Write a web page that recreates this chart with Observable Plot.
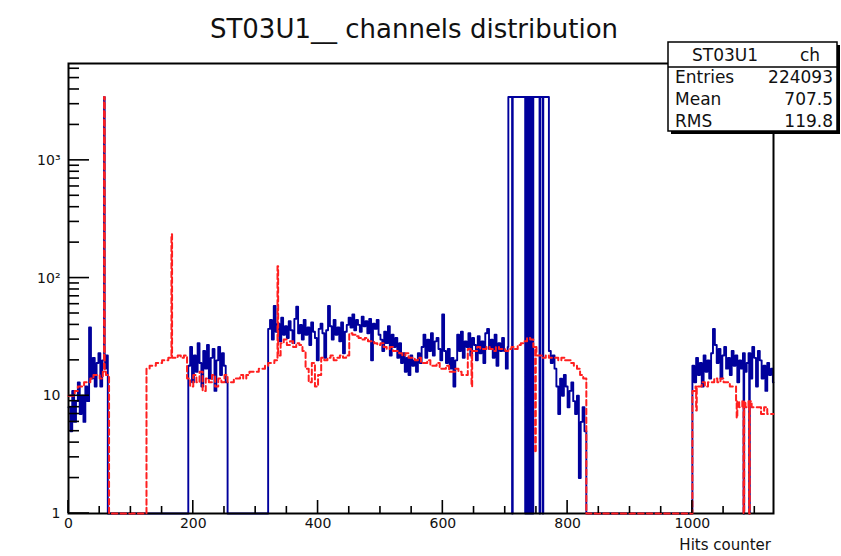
<!DOCTYPE html>
<html>
<head>
<meta charset="utf-8">
<script src="https://cdn.jsdelivr.net/npm/d3@7"></script>
<script src="https://cdn.jsdelivr.net/npm/@observablehq/plot@0.6"></script>
<style>
  html, body { margin: 0; padding: 0; background: #fff; }
  #chart svg { display: block; }
</style>
</head>
<body>
<div id="chart"></div>
<script>
// ---------- chart texts ----------
const title = "ST03U1__ channels distribution";
const xAxisTitle = "Hits counter";
const statsHeader = ["ST03U1", "ch"];
const statsNames = ["Entries", "Mean", "RMS"];
const statsValues = ["224093", "707.5", "119.8"];

// ---------- axes ----------
const nChannels = 1130;
const xMajor = [0, 200, 400, 600, 800, 1000];
const xLabels = ["0", "200", "400", "600", "800", "1000"];
const xMinor = [50, 100, 150, 250, 300, 350, 450, 500, 550, 650, 700, 750, 850, 900, 950, 1050, 1100];
const yMajor = [1, 10, 100, 1000];
const yLabels = ["1", "10", "10\u00B2", "10\u00B3"];
const yMinor = [2, 3, 4, 5, 6, 7, 8, 9, 20, 30, 40, 50, 60, 70, 80, 90,
  200, 300, 400, 500, 600, 700, 800, 900, 2000, 3000, 4000, 5000, 6000];
const yMax = 6650;

// ---------- blue histogram (solid), 3-channel bins: segment start channels + counts ----------
const blueBin = 3;
const blueSegA = [8, 5, 11, 6, 9, 13, 7, 10, 6, 12, 9, 38, 14, 21, 12, 19, 23, 12, 20, 17, 22];   // from 0
const blueSegB = [18, 26, 13, 22, 16, 28, 19, 12, 24, 17, 27, 14, 21, 25, 11, 20, 26, 15, 23, 18, 13]; // from 192
const blueSegC = [                                                                                  // from 320
  37, 44, 30, 58, 35, 41, 29, 46, 33, 39, 31, 43, 36, 28, 45, 57, 34,
  40, 30, 44, 33, 38, 27, 42, 35, 31, 20, 37,
  41, 34, 21, 36, 58, 39, 30, 44, 33, 38, 29, 42, 23, 35, 40,
  46, 38, 49, 36, 44, 40, 35, 47, 39, 43, 34, 45, 20, 41, 37, 44, 33,
  30, 24, 35, 28, 39, 22, 33, 26, 31, 21, 28,
  19, 23, 16, 21, 15, 22, 18, 20, 16, 23, 19,
  26, 33, 21, 30, 24, 34, 22, 29, 31, 25, 20, 49,
  24, 19, 25, 17, 21, 12, 20,
  33, 24, 35, 21, 29, 26, 34, 22, 31, 27, 20,
  32, 23, 29, 19, 34, 37, 25, 30, 21, 33, 18, 28, 24, 31,
  24, 17, 26];
const blueBlock = [3450, 3450, 3450, 3450, 3450, 3450, 3450, 3450, 3450, 3450, 3450,               // from 705
  3450, 3450, 3450, 3450, 3450, 3450, 3450, 3450, 3450, 3450, 3450];
const blueSegE = [24, 19, 22, 17, 12, 7, 14, 10, 15, 12, 8, 11, 13, 9, 7, 10, 2, 6, 8, 5];          // from 770
const blueSegF = [18, 13, 21, 15, 19, 12, 22, 16, 20, 14, 23, 37,                                    // from 1000
  27, 19, 25, 14, 22, 26, 17,
  21, 15, 24, 18, 22, 13, 20, 17, 23, 16,
  19, 23, 14, 26, 21, 12, 24,
  20, 14, 18, 11, 19, 15, 17, 13];
const blueStarts = [0, 192, 320, 705, 770, 1000];
// single channels [channel, count]
const blueSingles = [[57, 3450], [711, 0], [732, 0], [734, 0], [736, 0], [738, 0], [740, 0],
  [742, 0], [744, 0], [755, 0], [760, 0], [1082, 0], [1091, 0]];

// ---------- red histogram (dashed), 5-channel bins ----------
const redBin = 5;
const redSegA = [10, 10, 11, 12, 12, 13, 13, 14, 15, 15, 14, 16, 15];             // from 0
const redSegB = [17, 18, 18, 19, 19, 20, 20, 21, 21, 21, 22, 21, 22,               // from 125
  14, 12, 15, 13, 16, 11, 14, 13, 15, 12, 14, 13, 15,
  13, 13, 14, 14, 15, 14, 15, 16, 16, 16, 17, 17, 18,
  19, 19, 20,
  22, 28, 30, 27, 29, 26, 28, 27, 24, 17, 13, 19, 12, 15, 21, 20, 21, 22, 20, 21, 22, 21, 22,
  34, 33, 32, 31, 30, 31, 29, 29, 28, 27, 28, 26, 25, 26, 24, 24, 23, 22, 23, 21, 21, 20,
  21, 19, 19, 20, 18, 18, 19, 17, 17, 18, 16, 16, 17, 16, 15, 15,
  25, 24, 24, 26, 25, 25, 26, 25, 24, 26, 25, 25, 24, 25, 26, 25, 27, 28, 29, 31, 30, 26,
  22, 22, 21, 22, 21, 21, 21, 20, 21, 20, 20, 19, 18, 17, 15, 14];
const redSegF = [11, 12, 12, 13, 12, 13, 13, 14, 13, 14, 13, 13, 12, 12, 9, 8,     // from 1000
  9, 8, 9, 8, 8, 8, 7, 8, 7, 7];
const redStarts = [0, 125, 1000];
const redSingles = [[57, 3450], [165, 236], [335, 126], [646, 12], [748, 3.3],
  [1006, 7.5], [1071, 6.5], [1082, 0], [1091, 0]];

// ---------- build step tables ----------
function buildSteps(segments, starts, width, singles) {
  const counts = new Array(nChannels).fill(0);
  segments.forEach((seg, k) => {
    seg.forEach((v, i) => {
      const c0 = starts[k] + i * width;
      for (let c = c0; c < c0 + width && c < nChannels; c++) counts[c] = v;
    });
  });
  for (const [c, v] of singles) counts[c] = v;
  const pts = [];
  for (let c = 0; c < nChannels; c++) {
    if (c === 0 || counts[c] !== counts[c - 1]) pts.push({x: c, n: counts[c]});
  }
  pts.push({x: nChannels, n: counts[nChannels - 1]});
  return pts;
}
const blueSteps = buildSteps([blueSegA, blueSegB, blueSegC, blueBlock, blueSegE, blueSegF], blueStarts, blueBin, blueSingles);
const redSteps = buildSteps([redSegA, redSegB, redSegF], redStarts, redBin, redSingles);

const blueColor = "#00009c";
const redColor = "#ff1f1f";

const chart = Plot.plot({
  width: 841,
  height: 556,
  marginTop: 63,
  marginRight: 68,
  marginBottom: 43,
  marginLeft: 68,
  style: {fontFamily: "DejaVu Sans", fontSize: "14px", color: "#111", background: "#fff"},
  x: {domain: [0, nChannels]},
  y: {type: "log", domain: [1, yMax]},
  marks: [
    Plot.line(blueSteps, {x: "x", y: d => Math.max(d.n, 1), curve: "step-after",
      stroke: blueColor, strokeWidth: 1.9}),
    Plot.frame({stroke: "#000", strokeWidth: 2}),
    Plot.line(redSteps, {x: "x", y: d => Math.max(d.n, 1), curve: "step-after",
      stroke: redColor, strokeWidth: 2, strokeDasharray: "5.5,3.2"}),
    Plot.axisX({ticks: xMajor, tickFormat: d => xLabels[xMajor.indexOf(d)], tickSize: 0,
      tickPadding: 5, fontSize: 14, label: null}),
    Plot.axisY({ticks: yMajor, tickFormat: d => yLabels[yMajor.indexOf(d)], tickSize: 0,
      tickPadding: 8, fontSize: 14, label: null})
  ]
});

document.getElementById("chart").appendChild(chart);

// ---------- inside ticks (ROOT style), through Plot's scales ----------
const sx = chart.scale("x"), sy = chart.scale("y");
const svg = d3.select(chart);
const y0 = sy.apply(1), x0 = sx.apply(0);
const tg = svg.append("g").attr("stroke", "#000").attr("stroke-width", 1.6);
xMajor.forEach(v => tg.append("line").attr("x1", sx.apply(v)).attr("x2", sx.apply(v)).attr("y1", y0).attr("y2", y0 - 13));
xMinor.forEach(v => tg.append("line").attr("x1", sx.apply(v)).attr("x2", sx.apply(v)).attr("y1", y0).attr("y2", y0 - 7));
yMajor.forEach(v => tg.append("line").attr("y1", sy.apply(v)).attr("y2", sy.apply(v)).attr("x1", x0).attr("x2", x0 + 21));
yMinor.forEach(v => tg.append("line").attr("y1", sy.apply(v)).attr("y2", sy.apply(v)).attr("x1", x0).attr("x2", x0 + 11));

// ---------- title ----------
svg.append("text").attr("x", 414).attr("y", 38).attr("text-anchor", "middle")
  .attr("font-family", "DejaVu Sans").attr("font-size", 26).attr("fill", "#111").text(title);

// ---------- x axis title ----------
svg.append("text").attr("x", 771).attr("y", 550).attr("text-anchor", "end")
  .attr("font-family", "DejaVu Sans").attr("font-size", 15).attr("fill", "#111").text(xAxisTitle);

// ---------- stats box ----------
const sb = svg.append("g").attr("font-family", "DejaVu Sans").attr("font-size", 17).attr("fill", "#111");
sb.append("rect").attr("x", 671).attr("y", 45).attr("width", 169).attr("height", 89).attr("fill", "#000");
sb.append("rect").attr("x", 668).attr("y", 42).attr("width", 169).attr("height", 89)
  .attr("fill", "#fff").attr("stroke", "#000").attr("stroke-width", 1.5);
sb.append("line").attr("x1", 668).attr("x2", 837).attr("y1", 67).attr("y2", 67).attr("stroke", "#000").attr("stroke-width", 1.5);
sb.append("text").attr("x", 725).attr("y", 61).attr("text-anchor", "middle").text(statsHeader[0]);
sb.append("text").attr("x", 810).attr("y", 61).attr("text-anchor", "middle").text(statsHeader[1]);
const rowBase = [83, 105, 127];
statsNames.forEach((name, i) => {
  sb.append("text").attr("x", 675).attr("y", rowBase[i]).attr("text-anchor", "start").text(name);
  sb.append("text").attr("x", 833).attr("y", rowBase[i]).attr("text-anchor", "end").text(statsValues[i]);
});
</script>
</body>
</html>
